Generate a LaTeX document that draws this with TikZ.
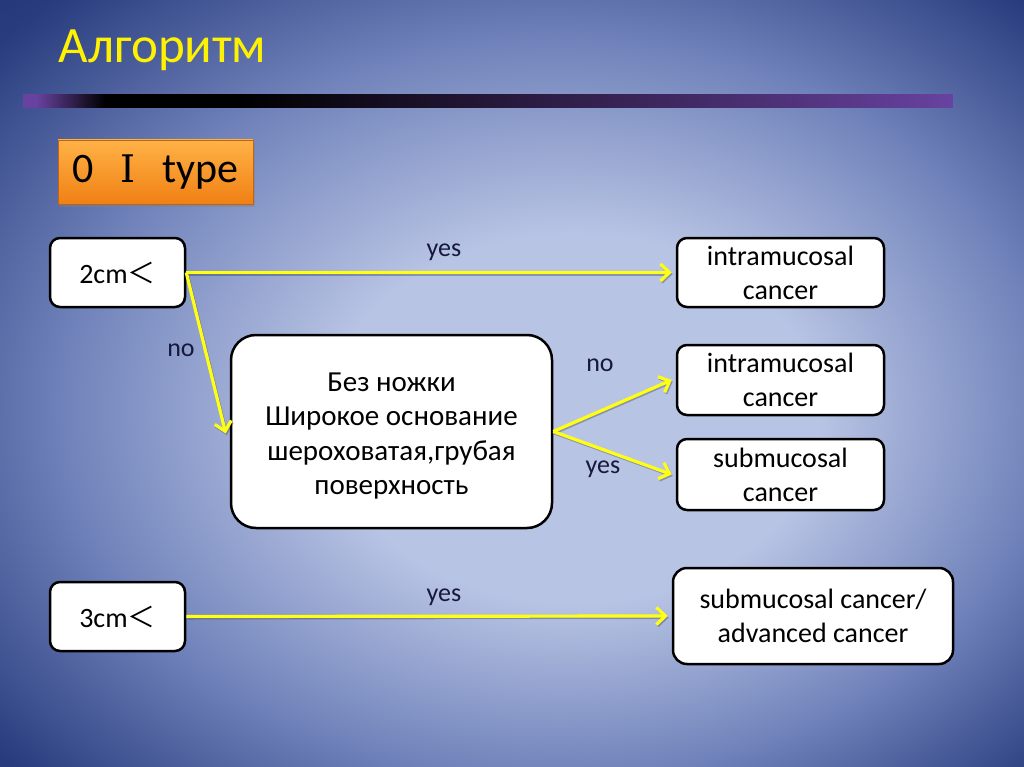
\documentclass[tikz,border=0pt]{standalone}
\usepackage{fontspec}
\setmainfont{Carlito}
\newfontfamily\cjk{Noto Sans CJK JP}
\newfontfamily\romfont{DejaVu Serif}
\usetikzlibrary{arrows.meta,shadows}
\definecolor{bgin}{RGB}{184,196,228}
\definecolor{bgmid}{RGB}{112,130,186}
\definecolor{bgedge}{RGB}{40,60,126}
\definecolor{bgout}{RGB}{8,26,92}
\definecolor{barpurple}{RGB}{104,66,160}
\definecolor{lbl}{RGB}{22,24,60}
\definecolor{orangetop}{RGB}{255,178,70}
\definecolor{orangebot}{RGB}{240,128,20}
\pgfdeclareradialshading{slidebg}{\pgfpoint{4bp}{-3bp}}{color(0bp)=(bgin);color(12bp)=(bgin);color(24bp)=(bgmid);color(35bp)=(bgedge);color(50bp)=(bgout)}
\pgfdeclarehorizontalshading{barshade}{12.95bp}{color(0bp)=(barpurple);color(14bp)=(barpurple);color(82.7bp)=(black);color(217bp)=(black);color(927.5bp)=(barpurple)}
\tikzset{
  box/.style={draw=black, line width=2.5pt, fill=white, rounded corners=10pt,
    align=center, inner sep=0pt, font=\fontsize{28}{34}\selectfont},
  arr/.style={draw={rgb,255:red,255;green,255;blue,20}, line width=3.2pt,
    -{Straight Barb[length=9pt,width=17pt]},
    preaction={draw=black, draw opacity=0.25, line width=3pt, transform canvas={xshift=1pt,yshift=-1.5pt}}},
  lab/.style={text=lbl, font=\fontsize{26}{28}\selectfont},
}
\begin{document}
\begin{tikzpicture}[x=1pt,y=-1pt]
\useasboundingbox (0,0) rectangle (1024,767);
\shade[shading=slidebg] (0,0) rectangle (1024,767);
% bar
\node[anchor=west, inner sep=0pt, outer sep=0pt] (bar) at (22,101.5) {\pgfuseshading{barshade}};
% title
\node[anchor=west, text=yellow, font=\fontsize{51}{56}\selectfont] (title) at (55,50) {Алгоритм};
% orange box
\node[draw={rgb,255:red,190;green,100;blue,20}, line width=0.8pt, top color=orangetop, bottom color=orangebot,
  minimum width=195pt, minimum height=64pt, inner sep=0pt,
  drop shadow={shadow xshift=2pt, shadow yshift=-3pt, opacity=0.4},
  font=\fontsize{42}{44}\selectfont] (type) at (155.5,172) {0\hspace{27pt}{\romfont\fontsize{38}{40}\selectfont Ⅰ}\hspace{27pt}type};
% boxes
\node[box, minimum width=135pt, minimum height=69pt] (c2) at (117.5,272.5) {2cm{\cjk ＜}};
\node[box, minimum width=207pt, minimum height=69pt] (im1) at (780.5,272.5) {intramucosal\\cancer};
\node[box, rounded corners=25pt, minimum width=321pt, minimum height=193pt, font=\fontsize{29}{34.5}\selectfont] (big) at (391.5,431.5)
  {\raisebox{-11pt}[0pt][0pt]{\begin{tabular}{@{}c@{}}Без ножки\\Широкое основание\\шероховатая,грубая\\поверхность\end{tabular}}};
\node[box, minimum width=207pt, minimum height=70pt] (im2) at (780.5,380) {intramucosal\\cancer};
\node[box, minimum width=207pt, minimum height=71pt] (sub) at (780.5,474.5) {submucosal\\cancer};
\node[box, minimum width=135pt, minimum height=69pt] (c3) at (117.5,616.5) {3cm{\cjk ＜}};
\node[box, rounded corners=14pt, minimum width=280pt, minimum height=96pt] (adv) at (813,616) {submucosal cancer/\\advanced cancer};
% arrows
\draw[arr] (c2.east) -- ([xshift=-4pt]im1.west);
\draw[arr] (c2.east) -- ([xshift=-4pt,yshift=-2pt]big.west);
\draw[arr] (big.east) -- ([xshift=-4pt]im2.west);
\draw[arr] (big.east) -- ([xshift=-4pt]sub.west);
\draw[arr] (c3.east) -- ([xshift=-4pt]adv.west);
% labels
\node[lab] (l1) at (444,252) {yes};
\node[lab] (l2) at (181,350) {no};
\node[lab] (l3) at (600,365) {no};
\node[lab] (l4) at (603,469) {yes};
\node[lab] (l5) at (444,597) {yes};
\end{tikzpicture}
\end{document}
